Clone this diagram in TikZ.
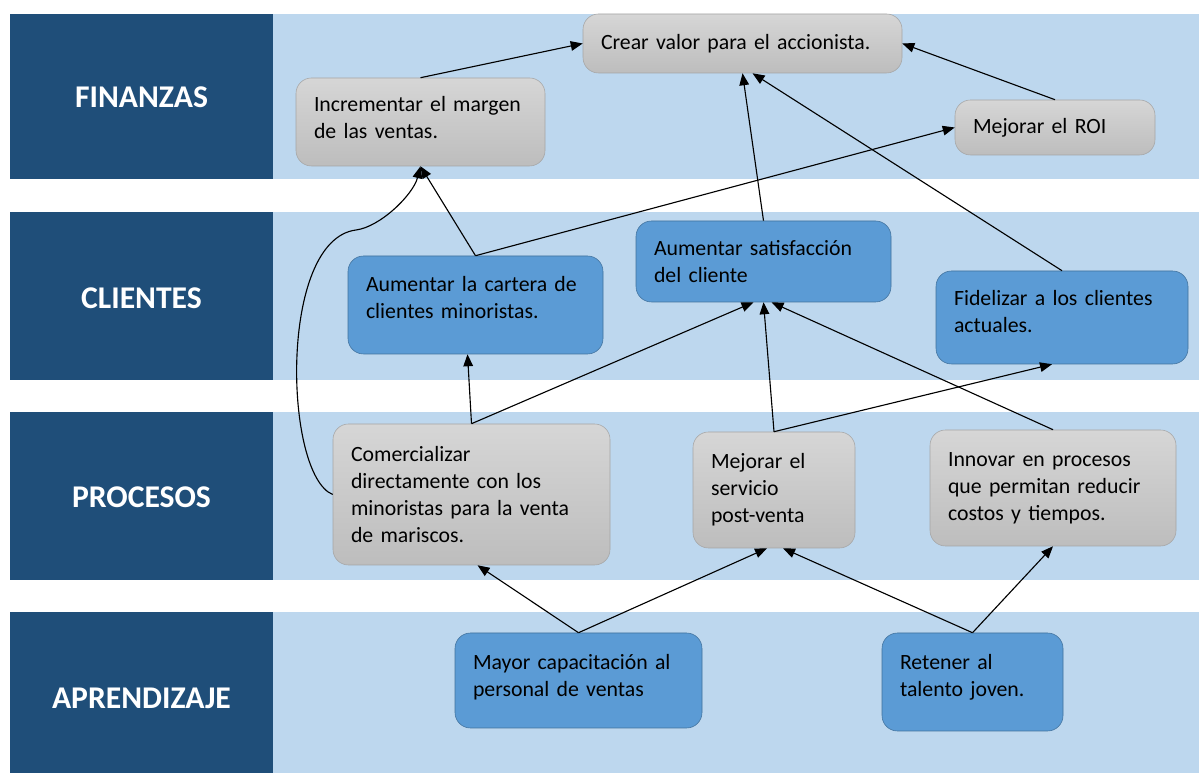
\documentclass[tikz,border=0pt]{standalone}
\usepackage{fontspec}
\setmainfont{Carlito}
\definecolor{lanedark}{HTML}{1F4E79}
\definecolor{lanelight}{HTML}{BDD7EE}
\definecolor{graytop}{HTML}{D6D6D6}
\definecolor{graybot}{HTML}{BDBDBD}
\definecolor{grayline}{HTML}{A5A5A5}
\definecolor{bluefill}{HTML}{5B9BD5}
\definecolor{blueline}{HTML}{41719C}
\usetikzlibrary{positioning,arrows.meta}

\begin{document}
\begin{tikzpicture}[
  every node/.style={font=\fontsize{15.5}{19.2}\selectfont},
  gbox/.style={rectangle, rounded corners=11pt, draw=grayline, top color=graytop,
               bottom color=graybot, align=left, inner xsep=0.45cm, inner ysep=0pt},
  bbox/.style={rectangle, rounded corners=11pt, draw=blueline, fill=bluefill,
               align=left, inner xsep=0.45cm, inner ysep=0pt},
  lane/.style={text=white, font=\fontsize{22.5}{26}\selectfont\bfseries},
  arr/.style={-{Triangle[length=0.3cm, width=0.24cm]}, line width=0.8pt}
]
  \useasboundingbox[fill=white] (0,0) rectangle (29.975,19.325);

  % perspective bands
  \fill[lanelight] (6.825,14.85) rectangle (29.975,18.975);
  \fill[lanelight] (6.825,9.825) rectangle (29.975,14.025);
  \fill[lanelight] (6.825,4.825) rectangle (29.975,9.025);
  \fill[lanelight] (6.825,0)     rectangle (29.975,4.025);
  \fill[lanedark] (0.25,14.85) rectangle (6.825,18.975);
  \fill[lanedark] (0.25,9.825) rectangle (6.825,14.025);
  \fill[lanedark] (0.25,4.825) rectangle (6.825,9.025);
  \fill[lanedark] (0.25,0)     rectangle (6.825,4.025);

  \node[lane] (fin) at (3.5375,16.9)  {FINANZAS};
  \node[lane] (cli) at (3.5375,11.875) {CLIENTES};
  \node[lane] (pro) at (3.5375,6.9)   {PROCESOS};
  \node[lane] (apr) at (3.5375,1.875) {APRENDIZAJE};

  % finanzas
  \node[gbox, text width=7.075cm, minimum height=1.475cm] (crear)  at (18.5625,18.2375) {Crear valor para el accionista.};
  \node[gbox, text width=5.325cm, minimum height=2.2cm, text depth=0.88cm] (margen) at (10.5125,16.275) {Incrementar el margen\\de las ventas.};
  \node[gbox, text width=4.1cm,   minimum height=1.375cm] (roi)    at (26.375,16.1375)  {Mejorar el ROI};

  % clientes
  \node[bbox, text width=5.475cm, minimum height=2.45cm, text depth=1.03cm] (cartera) at (11.8875,11.7) {Aumentar la cartera de\\clientes minoristas.};
  \node[bbox, text width=5.475cm, minimum height=2.025cm] (satis)   at (19.0875,12.7875) {Aumentar satisfacción\\del cliente};
  \node[bbox, text width=5.4cm,   minimum height=2.325cm, text depth=0.98cm] (fidel) at (26.55,11.3875) {Fidelizar a los clientes\\actuales.};

  % procesos
  \node[gbox, text width=6.025cm, minimum height=3.525cm] (comerc) at (11.7875,6.9625) {Comercializar\\directamente con los\\minoristas para la venta\\de mariscos.};
  \node[gbox, text width=3.15cm,  minimum height=2.9cm]   (postv)  at (19.35,7.075)    {Mejorar el\\servicio\\post-venta};
  \node[gbox, text width=5.25cm,  minimum height=2.9cm]   (innov)  at (26.325,7.125)   {Innovar en procesos\\que permitan reducir\\costos y tiempos.};

  % aprendizaje
  \node[bbox, text width=5.275cm, minimum height=2.375cm, text depth=0.94cm] (capac) at (14.4625,2.3125) {Mayor capacitación al\\personal de ventas};
  \node[bbox, text width=3.625cm, minimum height=2.45cm, text depth=0.99cm] (talento) at (24.3125,2.275) {Retener al\\talento joven.};

  % links
  \draw[arr] (margen.north) -- (crear.west);
  \draw[arr] (roi.north) -- (crear.east);
  \draw[arr] (satis.north) -- (crear.south);
  \draw[arr] (fidel.north) -- ([xshift=0.25cm]crear.south);
  \draw[arr] (cartera.north) -- (margen.south);
  \draw[arr] (cartera.north) -- (roi.west);
  \draw[arr] (comerc.north) -- ([xshift=-0.2cm]cartera.south);
  \draw[arr] (comerc.north) -- ([xshift=-0.25cm]satis.south);
  \draw[arr] (comerc.west) .. controls (7.1,7.45) and (6.95,13.325) .. (8.9,13.575)
                          .. controls (9.5,13.65) and (10.325,14.45) .. (margen.south);
  \draw[arr] (postv.north) -- (satis.south);
  \draw[arr] (postv.north) -- ([xshift=-0.25cm]fidel.south);
  \draw[arr] (innov.north) -- ([xshift=0.2cm]satis.south);
  \draw[arr] (capac.north) -- ([xshift=0.15cm]comerc.south);
  \draw[arr] (capac.north) -- ([xshift=-0.175cm]postv.south);
  \draw[arr] (talento.north) -- ([xshift=0.225cm]postv.south);
  \draw[arr] (talento.north) -- (innov.south);
\end{tikzpicture}
\end{document}
